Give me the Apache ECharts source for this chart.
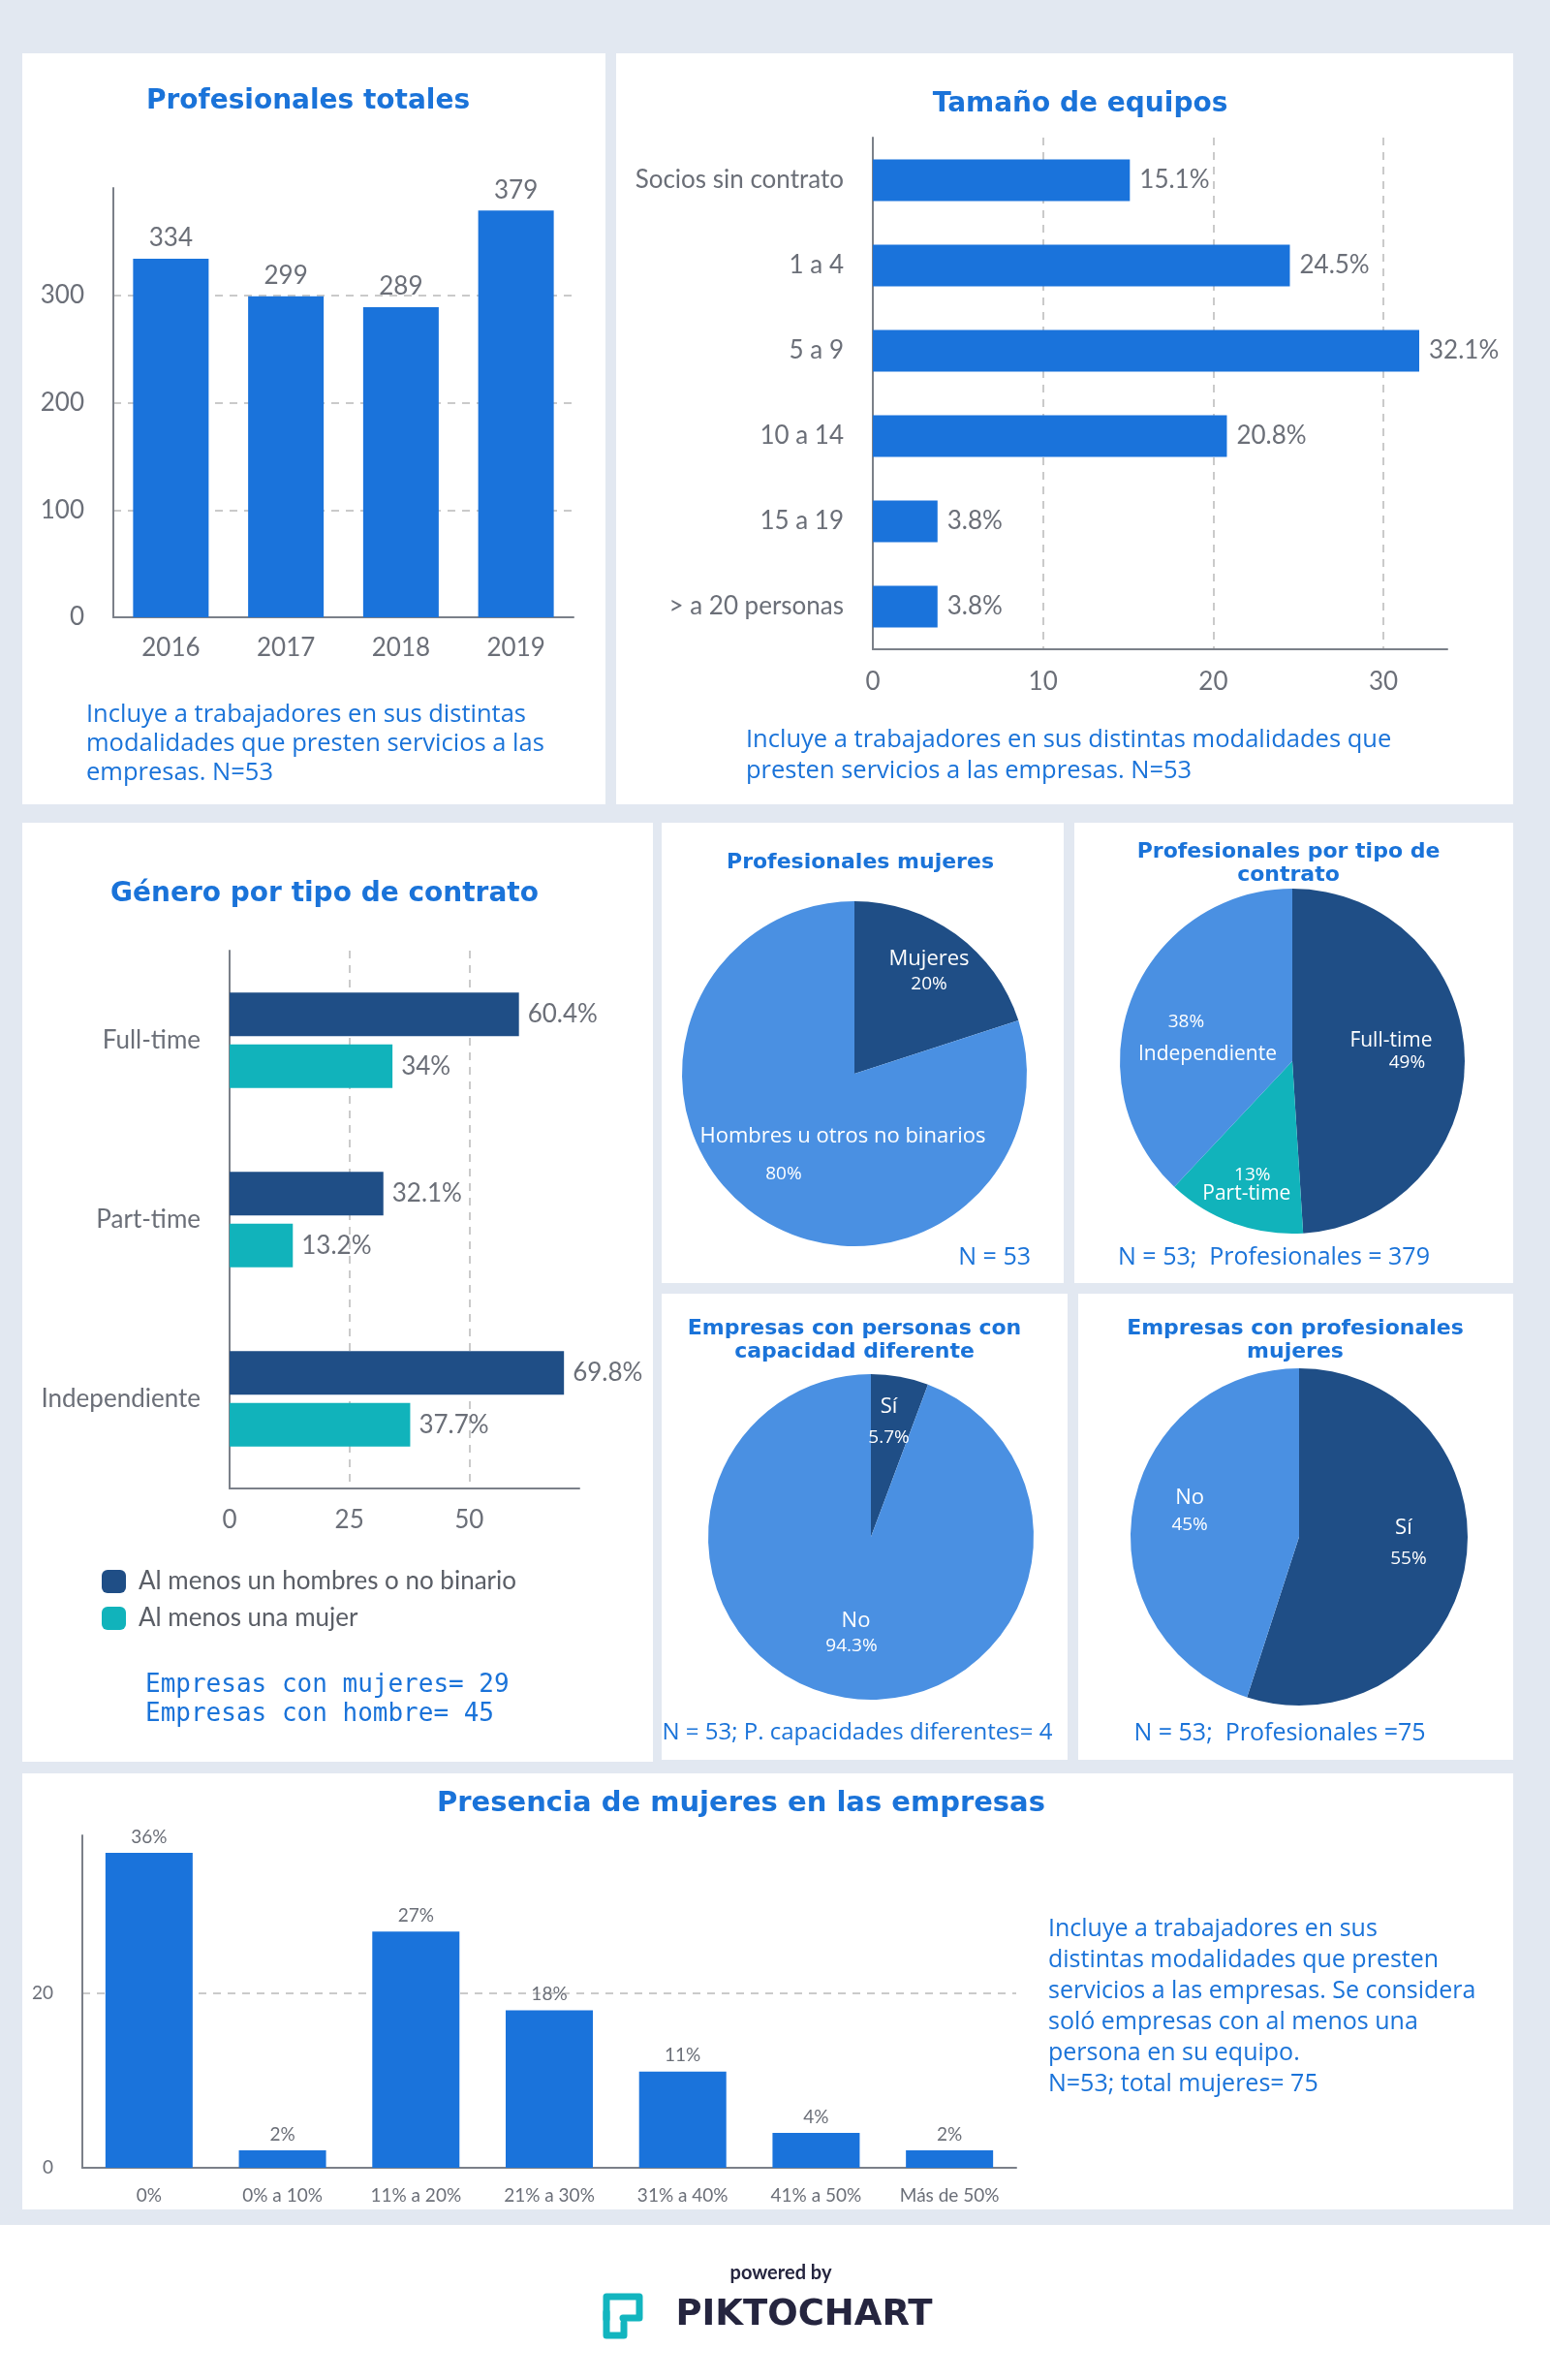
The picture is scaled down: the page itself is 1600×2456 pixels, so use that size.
<!DOCTYPE html>
<html>
<head>
<meta charset="utf-8">
<title>Profesionales y equipos</title>
<script src="https://cdn.jsdelivr.net/npm/echarts@6/dist/echarts.min.js"></script>
<style>
  html, body { margin: 0; padding: 0; background: #e2e8f1; }
  #main { width: 1600px; height: 2456px; }
</style>
</head>
<body>
<div id="main"></div>
<script>
// --- data ---
var years = ['2016', '2017', '2018', '2019'];
var totalPros = [334, 299, 289, 379];

var teamSizes = ['Socios sin contrato', '1 a 4', '5 a 9', '10 a 14', '15 a 19', '> a 20 personas'];
var teamShares = [15.1, 24.5, 32.1, 20.8, 3.8, 3.8];

var contractTypes = ['Full-time', 'Part-time', 'Independiente'];
var menShares = [60.4, 32.1, 69.8];
var womenShares = [34, 13.2, 37.7];
var genderSeries = ['Al menos un hombres o no binario', 'Al menos una mujer'];

var womenNames = ['Mujeres', 'Hombres u otros no binarios'];
var womenValues = [20, 80];

var contractNames = ['Full-time', 'Part-time', 'Independiente'];
var contractValues = [49, 13, 38];

var disabilityNames = ['Sí', 'No'];
var disabilityValues = [5.7, 94.3];

var womenFirmNames = ['Sí', 'No'];
var womenFirmValues = [55, 45];

var presenceRanges = ['0%', '0% a 10%', '11% a 20%', '21% a 30%', '31% a 40%', '41% a 50%', 'Más de 50%'];
var presenceShares = [36, 2, 27, 18, 11, 4, 2];

// --- style ---
var BLUE = '#1a73db';
var TITLE = '#1a73d9';
var DARK = '#1f4e86';
var TEAL = '#11b3bb';
var LIGHT = '#4a90e2';
var GRAY = '#6b6f78';
var AXIS = '#7b8089';
var DASH = { color: '#b9b9b9', width: 1.5, type: [8, 7] };

var chartDom = document.getElementById('main');
var myChart = echarts.init(chartDom);
var option;

function panel(x, y, w, h) {
  return { type: 'rect', z: -10, silent: true, shape: { x: x, y: y, width: w, height: h }, style: { fill: '#fff' } };
}
function text(str, x, y, font, fill, align, lh) {
  return {
    type: 'text', z: 10, silent: true,
    style: { text: str, x: x, y: y, font: font, fill: fill, textAlign: align || 'center', textVerticalAlign: 'middle', lineHeight: lh }
  };
}

function valueAxis(grid, max, interval, extra) {
  var ax = {
    type: 'value', gridIndex: grid, min: 0, max: max, interval: interval,
    axisLine: { show: true, lineStyle: { color: AXIS, width: 2 } },
    axisTick: { show: false },
    axisLabel: { fontFamily: 'Lato', fontSize: 26, color: GRAY, showMaxLabel: false },
    splitLine: { show: true, lineStyle: DASH, showMinLine: false, showMaxLine: false }
  };
  for (var k in extra) ax.axisLabel[k] = extra[k];
  return ax;
}
function catAxis(grid, data, extra, inverse) {
  var ax = {
    type: 'category', gridIndex: grid, data: data, inverse: !!inverse,
    axisLine: { show: true, lineStyle: { color: AXIS, width: 2 } },
    axisTick: { show: false },
    axisLabel: { fontFamily: 'Lato', fontSize: 26, color: GRAY }
  };
  for (var k in extra) ax.axisLabel[k] = extra[k];
  return ax;
}

function pieLabel(tpl) {
  return function (p) {
    return tpl[p.dataIndex].replace('{b}', p.name).replace('{c}', p.value);
  };
}
function tok(size, lh, pad) {
  return { fontFamily: 'Open Sans', fontSize: size, color: '#fff', lineHeight: lh, padding: pad || 0 };
}

option = {
  backgroundColor: '#e2e8f1',
  animation: false,
  graphic: [
    panel(23, 55, 602, 775),
    panel(636, 55, 926, 775),
    panel(23, 849, 651, 969),
    panel(683, 849, 415, 475),
    panel(1109, 849, 453, 475),
    panel(683, 1335, 419, 481),
    panel(1113, 1335, 449, 481),
    panel(23, 1830, 1539, 450),
    panel(0, 2296, 1600, 160),

    text('Profesionales totales', 318, 105, 'bold 28px "DejaVu Sans"', TITLE),
    text('Tamaño de equipos', 1115, 108, 'bold 28px "DejaVu Sans"', TITLE),
    text('Género por tipo de contrato', 335, 923, 'bold 28px "DejaVu Sans"', TITLE),
    text('Profesionales mujeres', 888, 890, 'bold 22px "DejaVu Sans"', TITLE),
    text('Profesionales por tipo de\ncontrato', 1330, 891, 'bold 22px "DejaVu Sans"', TITLE, 'center', 24),
    text('Empresas con personas con\ncapacidad diferente', 882, 1383, 'bold 22px "DejaVu Sans"', TITLE, 'center', 24),
    text('Empresas con profesionales\nmujeres', 1337, 1383, 'bold 22px "DejaVu Sans"', TITLE, 'center', 24),
    text('Presencia de mujeres en las empresas', 765, 1861, 'bold 29px "DejaVu Sans"', TITLE),

    text('Incluye a trabajadores en sus distintas\nmodalidades que presten servicios a las\nempresas. N=53',
      89, 768, '25.5px "Open Sans"', TITLE, 'left', 30),
    text('Incluye a trabajadores en sus distintas modalidades que\npresten servicios a las empresas. N=53',
      770, 780, '25.5px "Open Sans"', TITLE, 'left', 32),
    text('Empresas con mujeres= 29\nEmpresas con hombre= 45', 150, 1754, '26px "DejaVu Sans Mono"', TITLE, 'left', 30),
    text('N = 53', 1064, 1298, '25px "Open Sans"', TITLE, 'right'),
    text('N = 53;  Profesionales = 379', 1315, 1298, '25px "Open Sans"', TITLE),
    text('N = 53; P. capacidades diferentes= 4', 885, 1788, '24px "Open Sans"', TITLE),
    text('N = 53;  Profesionales =75', 1321, 1789, '25px "Open Sans"', TITLE),
    text('Incluye a trabajadores en sus\ndistintas modalidades que presten\nservicios a las empresas. Se considera\nsoló empresas con al menos una\npersona en su equipo.\nN=53; total mujeres= 75',
      1082, 2071, '25px "Open Sans"', TITLE, 'left', 32),

    text('powered by', 806, 2346, 'bold 20px Lato', '#25253f'),
    text('PIKTOCHART', 830, 2389, 'bold 37px "DejaVu Sans"', '#25253f'),
    {
      type: 'polyline', z: 10, silent: true, x: 622, y: 2366,
      shape: { points: [[4, 27], [4, 4], [38, 4], [38, 26], [21, 26]] },
      style: { fill: null, stroke: '#12b5bf', lineWidth: 7, lineJoin: 'round', lineCap: 'round' }
    },
    {
      type: 'polyline', z: 10, silent: true, x: 622, y: 2366,
      shape: { points: [[4, 20], [4, 44], [22, 44], [22, 31]] },
      style: { fill: null, stroke: '#12b5bf', lineWidth: 7, lineJoin: 'round', lineCap: 'round' }
    }
  ],
  legend: {
    data: genderSeries,
    selectedMode: false,
    orient: 'vertical',
    left: 100,
    top: 1614,
    itemWidth: 25,
    itemHeight: 24,
    itemGap: 12,
    icon: 'roundRect',
    textStyle: { fontFamily: 'Lato', fontSize: 26, color: '#5a5e66', padding: [0, 0, 0, 8] }
  },
  grid: [
    { left: 117, top: 194, width: 475, height: 443 },
    { left: 901, top: 142, width: 593, height: 528 },
    { left: 237, top: 981, width: 361, height: 555 },
    { left: 85, top: 1894, width: 964, height: 343 }
  ],
  xAxis: [
    catAxis(0, years, { margin: 19 }),
    valueAxis(1, 33.75, 10, { margin: 21 }),
    valueAxis(2, 73, 25, { margin: 20 }),
    catAxis(3, presenceRanges, { fontSize: 19, margin: 19 })
  ],
  yAxis: [
    valueAxis(0, 400, 100, { margin: 30 }),
    catAxis(1, teamSizes, { margin: 30 }, true),
    catAxis(2, contractTypes, { margin: 30 }, true),
    valueAxis(3, 38, 20, { fontSize: 19, margin: 30 })
  ],
  series: [
    {
      type: 'bar', xAxisIndex: 0, yAxisIndex: 0, data: totalPros, barWidth: 78,
      itemStyle: { color: BLUE },
      label: { show: true, position: 'top', distance: 8, fontFamily: 'Lato', fontSize: 26, color: GRAY }
    },
    {
      type: 'bar', xAxisIndex: 1, yAxisIndex: 1, data: teamShares, barWidth: 43,
      itemStyle: { color: BLUE },
      label: { show: true, position: 'right', distance: 10, formatter: '{c}%', fontFamily: 'Lato', fontSize: 26, color: GRAY }
    },
    {
      name: genderSeries[0], type: 'bar', xAxisIndex: 2, yAxisIndex: 2, data: menShares, barWidth: 45, barGap: '19%',
      itemStyle: { color: DARK },
      label: { show: true, position: 'right', distance: 9, formatter: '{c}%', fontFamily: 'Lato', fontSize: 26, color: GRAY }
    },
    {
      name: genderSeries[1], type: 'bar', xAxisIndex: 2, yAxisIndex: 2, data: womenShares, barWidth: 45, barGap: '19%',
      itemStyle: { color: TEAL },
      label: { show: true, position: 'right', distance: 9, formatter: '{c}%', fontFamily: 'Lato', fontSize: 26, color: GRAY }
    },
    {
      type: 'bar', xAxisIndex: 3, yAxisIndex: 3, data: presenceShares, barWidth: 90,
      itemStyle: { color: BLUE },
      label: { show: true, position: 'top', distance: 7, formatter: '{c}%', fontFamily: 'Lato', fontSize: 19, color: GRAY }
    },
    {
      type: 'pie', center: [882, 1108], radius: 178, startAngle: 90, color: [DARK, LIGHT],
      avoidLabelOverlap: false,
      data: womenNames.map(function (n, i) { return { name: n, value: womenValues[i] }; }),
      label: {
        show: true, position: 'inside',
        formatter: pieLabel(['{n|{b}}\n{p|{c}%}', '{m|{b}}\n{q|{c}%}']),
        rich: { n: tok(22, 26), p: tok(19, 26), m: tok(22, 39), q: tok(19, 39, [0, 122, 0, 0]) }
      },
      labelLine: { show: false },
      labelLayout: function (p) { return [{ dx: 23, dy: -31 }, { dx: 42, dy: 10 }][p.dataIndex]; }
    },
    {
      type: 'pie', center: [1334, 1095], radius: 178, startAngle: 90, color: [DARK, TEAL, LIGHT],
      avoidLabelOverlap: false,
      data: contractNames.map(function (n, i) { return { name: n, value: contractValues[i] }; }),
      label: {
        show: true, position: 'inside',
        formatter: pieLabel(['{n|{b}}\n{p|{c}%}', '{q|{c}%}\n{m|{b}}', '{s|{c}%}\n{r|{b}}']),
        rich: {
          n: tok(21, 22), p: tok(19, 22, [0, 0, 0, 33]),
          m: tok(21, 19), q: tok(19, 19, [0, 0, 0, 12]),
          r: tok(21, 34), s: tok(19, 34, [0, 44, 0, 0])
        }
      },
      labelLine: { show: false },
      labelLayout: function (p) { return [{ dx: 10, dy: -7 }, { dx: -16, dy: 41 }, { dx: -2, dy: 10 }][p.dataIndex]; }
    },
    {
      type: 'pie', center: [899, 1586], radius: 168, startAngle: 90, color: [DARK, LIGHT],
      avoidLabelOverlap: false,
      data: disabilityNames.map(function (n, i) { return { name: n, value: disabilityValues[i] }; }),
      label: {
        show: true, position: 'inside',
        formatter: pieLabel(['{n|{b}}\n{p|{c}%}', '{m|{b}}\n{q|{c}%}']),
        rich: { n: tok(22, 32), p: tok(19, 32), m: tok(22, 26), q: tok(19, 26, [0, 9, 0, 0]) }
      },
      labelLine: { show: false },
      labelLayout: function (p) { return [{ dx: 3, dy: -33 }, { dx: 0, dy: 14 }][p.dataIndex]; }
    },
    {
      type: 'pie', center: [1341, 1586], radius: 174, startAngle: 90, color: [DARK, LIGHT],
      avoidLabelOverlap: false,
      data: womenFirmNames.map(function (n, i) { return { name: n, value: womenFirmValues[i] }; }),
      label: {
        show: true, position: 'inside',
        formatter: pieLabel(['{n|{b}}\n{p|{c}%}', '{m|{b}}\n{q|{c}%}']),
        rich: { n: tok(22, 32), p: tok(19, 32, [0, 0, 0, 10]), m: tok(22, 28), q: tok(19, 28) }
      },
      labelLine: { show: false },
      labelLayout: function (p) { return [{ dx: 19, dy: -7 }, { dx: -24, dy: -12 }][p.dataIndex]; }
    }
  ]
};

option && myChart.setOption(option);
</script>
</body>
</html>
